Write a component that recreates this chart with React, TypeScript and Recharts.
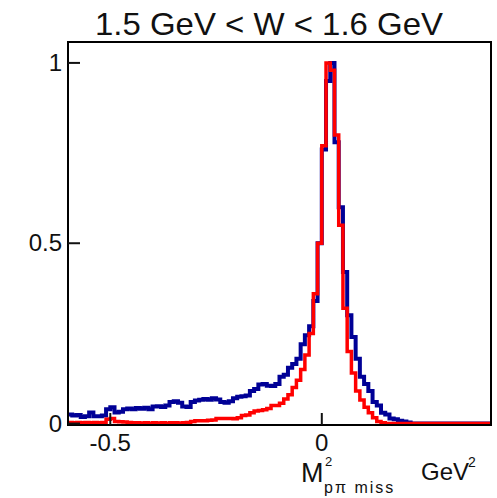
import { LineChart, Line, XAxis, YAxis, Label } from 'recharts';

// histogram binning: 100 bins of 0.01 GeV^2 from -0.6 to 0.4
const BIN_START = -0.6;
const BIN_WIDTH = 0.01;

const X_DOMAIN = [-0.6, 0.4];
const Y_DOMAIN = [-0.004, 1.058];
const X_TICKS = [-0.5, 0];
const Y_TICKS = [0, 0.5, 1];

// blue histogram (bin contents, normalised to peak)
const blueCounts = [
  0.025, 0.022, 0.024, 0.018, 0.02, 0.031, 0.02, 0.02, 0.022, 0.04,
  0.045, 0.031, 0.033, 0.04, 0.042, 0.04, 0.043, 0.041, 0.044, 0.04,
  0.047, 0.048, 0.046, 0.05, 0.06, 0.062, 0.058, 0.047, 0.046, 0.06,
  0.064, 0.066, 0.068, 0.066, 0.07, 0.067, 0.06, 0.058, 0.062, 0.07,
  0.074, 0.076, 0.078, 0.09, 0.096, 0.108, 0.11, 0.105, 0.104, 0.11,
  0.13, 0.135, 0.155, 0.165, 0.18, 0.22, 0.245, 0.27, 0.34, 0.5,
  0.76, 0.95, 1.0, 0.78, 0.6, 0.42, 0.3, 0.24, 0.18, 0.13,
  0.11, 0.09, 0.06, 0.05, 0.03, 0.025, 0.014, 0.012, 0.008, 0.006,
  0.003, 0, 0, 0, 0, 0, 0, 0, 0, 0,
  0, 0, 0, 0, 0, 0, 0, 0, 0, 0,
];

// red histogram
const redCounts = [
  0.003, 0.002, 0.003, 0.002, 0.003, 0.002, 0.003, 0.002, 0.003, 0.012,
  0.014, 0.006, 0.005, 0.004, 0.003, 0.002, 0.002, 0.001, 0.002, 0.001,
  0.002, 0.001, 0.002, 0.001, 0.002, 0.002, 0.001, 0.002, 0.003, 0.006,
  0.008, 0.008, 0.008, 0.009, 0.01, 0.014, 0.014, 0.014, 0.014, 0.013,
  0.016, 0.022, 0.024, 0.03, 0.035, 0.036, 0.038, 0.042, 0.05, 0.05,
  0.056, 0.068, 0.08, 0.1, 0.12, 0.15, 0.19, 0.25, 0.36, 0.5,
  0.77, 1.0, 0.98, 0.8, 0.55, 0.32, 0.2, 0.14, 0.09, 0.065,
  0.045, 0.03, 0.016, 0.006, 0.002, 0, 0, 0, 0, 0,
  0, 0, 0, 0, 0, 0, 0, 0, 0, 0,
  0, 0, 0, 0, 0, 0, 0, 0, 0, 0,
];

const rows = blueCounts.map((b, i) => ({
  x: +(BIN_START + i * BIN_WIDTH).toFixed(3),
  blue: b,
  red: redCounts[i],
}));
// closing edge so the last bin gets its width
rows.push({
  x: +(BIN_START + blueCounts.length * BIN_WIDTH).toFixed(3),
  blue: blueCounts[blueCounts.length - 1],
  red: redCounts[redCounts.length - 1],
});

const FONT = '"Liberation Sans", Arial, Helvetica, sans-serif';
const INK = '#111';

const XTick = (props: any) => {
  const { x, y, payload } = props;
  return (
    <g>
      <line x1={x} x2={x} y1={y} y2={y - 12} stroke={INK} strokeWidth={2} />
      <text x={x} y={y + 26} textAnchor="middle" fontSize={24} fontFamily={FONT} fill={INK}>
        {payload.value}
      </text>
    </g>
  );
};

const YTick = (props: any) => {
  const { x, y, payload } = props;
  return (
    <g>
      <line x1={x} x2={x + 12} y1={y} y2={y} stroke={INK} strokeWidth={2} />
      <text x={x - 6} y={y + 8} textAnchor="end" fontSize={24} fontFamily={FONT} fill={INK}>
        {payload.value}
      </text>
    </g>
  );
};

const renderTitle = () => (
  <text x={95} y={35} fontSize={32} fontFamily={FONT} fill={INK} textLength={348} lengthAdjust="spacingAndGlyphs">
    1.5 GeV &lt; W &lt; 1.6 GeV
  </text>
);

const renderXTitle = () => (
  <g fontFamily={FONT} fill={INK}>
    <text x={301} y={482} fontSize={27}>M</text>
    <text x={325} y={466} fontSize={13}>2</text>
    <text x={324} y={493} fontSize={16} letterSpacing={2}>pπ  miss</text>
    <text x={421} y={480} fontSize={24}>GeV</text>
    <text x={468} y={467} fontSize={14}>2</text>
  </g>
);

// frame box around the plot area, sized from the y axis viewBox
const renderFrame = (props: any) => {
  const vb = props.viewBox || {};
  const top = vb.y ?? 42;
  const h = vb.height ?? 383;
  const left = (vb.x ?? 0) + (vb.width ?? 68);
  return (
    <rect x={left} y={top} width={491 - left} height={h} fill="none" stroke="#000" strokeWidth={2} />
  );
};

export default function App() {
  return (
    <div style={{ position: 'absolute', left: 0, top: 0, width: 497, height: 498, background: '#fff' }}>
      <LineChart width={497} height={498} data={rows} margin={{ top: 42, right: 6, bottom: 0, left: 0 }}>
        <XAxis
          dataKey="x"
          type="number"
          domain={X_DOMAIN}
          ticks={X_TICKS}
          interval={0}
          height={73}
          tickSize={0}
          tickMargin={0}
          tick={<XTick />}
          axisLine={{ stroke: INK, strokeWidth: 2 }}
          allowDataOverflow
        >
          <Label content={renderXTitle} />
          <Label content={renderTitle} />
        </XAxis>
        <YAxis
          type="number"
          domain={Y_DOMAIN}
          ticks={Y_TICKS}
          interval={0}
          width={68}
          tickSize={0}
          tickMargin={0}
          tick={<YTick />}
          axisLine={{ stroke: INK, strokeWidth: 2 }}
          allowDataOverflow
        >
          <Label content={renderFrame} />
        </YAxis>
        <Line
          type="stepAfter"
          dataKey="blue"
          stroke="#000096"
          strokeWidth={4}
          strokeLinejoin="miter"
          dot={false}
          isAnimationActive={false}
        />
        <Line
          type="stepAfter"
          dataKey="red"
          stroke="#ff0000"
          strokeWidth={3.5}
          strokeLinejoin="miter"
          dot={false}
          isAnimationActive={false}
        />
      </LineChart>
    </div>
  );
}
